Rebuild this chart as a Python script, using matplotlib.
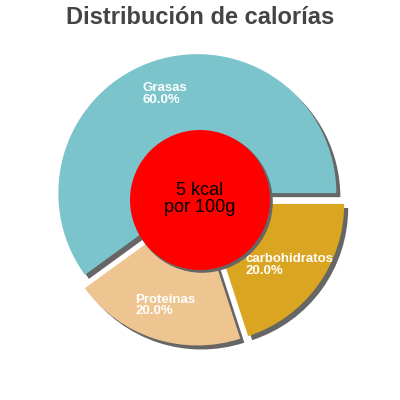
import matplotlib
matplotlib.use("Agg")
import matplotlib.pyplot as plt
from matplotlib.patches import Circle, Shadow

categories = ["Grasas", "Proteínas", "carbohidratos"]
values = [60.0, 20.0, 20.0]
colors = ["#7bc4cc", "#eec591", "#daa520"]
title = "Distribución de calorías"
center_text = "5 kcal\npor 100g"

fig = plt.figure(figsize=(4, 4), dpi=100)
ax = fig.add_axes([0, 0, 1, 1])

labels = [f"{c}\n{v:.1f}%" for c, v in zip(categories, values)]
wedges, texts = ax.pie(
    values, labels=labels, colors=colors, startangle=0, counterclock=True,
    radius=139, center=(199.5, 200.2), explode=[7, 7, 7],
    labeldistance=0.75,
    wedgeprops=dict(linewidth=0),
    shadow=dict(ox=2.9, oy=-2.9, facecolor="#666666", edgecolor="#666666", alpha=1),
    textprops=dict(color="white", fontsize=9.5, fontweight="bold",
                   family=["Liberation Sans", "DejaVu Sans"]),
)
for t in texts:
    t.set_ha("center")
    t.set_va("center")
    t.set_multialignment("left")
    t.set_linespacing(0.95)

circ = Circle((200, 200), 70, facecolor="red", edgecolor="none", zorder=5)
ax.add_patch(circ)
sh = Shadow(circ, 1.5, -1.5, facecolor="#666666", edgecolor="#666666", alpha=1)
sh.set_zorder(4.9)
ax.add_patch(sh)
ax.text(200, 201, center_text, ha="center", va="center", fontsize=13,
        color="black", family=["Liberation Sans", "DejaVu Sans"], zorder=6,
        linespacing=0.95)

ax.text(200, 400 - 17, title, ha="center", va="center", fontsize=17,
        fontweight="bold", color="#444444", family=["Liberation Sans", "DejaVu Sans"])

ax.set_xlim(0, 400)
ax.set_ylim(0, 400)
ax.set_aspect("equal")
ax.axis("off")
fig.savefig("out.png", dpi=100)
